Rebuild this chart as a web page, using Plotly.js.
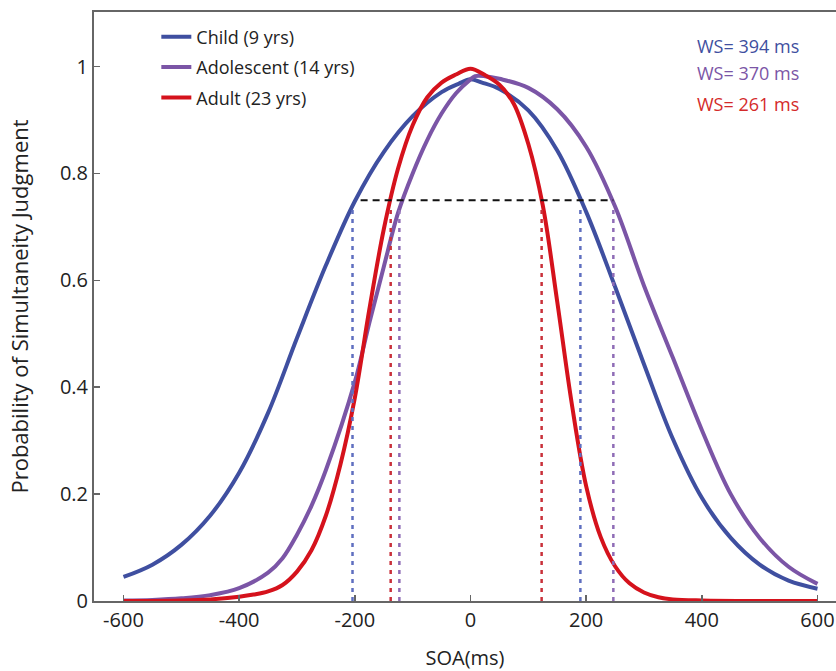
<!DOCTYPE html>
<html>
<head>
<meta charset="utf-8">
<script src="https://cdn.plot.ly/plotly-3.0.1.min.js"></script>
<style>html,body{margin:0;padding:0;background:#fff;overflow:hidden}</style>
</head>
<body>
<div id="chart" style="width:836px;height:671px"></div>
<script>
// ---- data ----
const seriesNames = ["Child (9 yrs)", "Adolescent (14 yrs)", "Adult (23 yrs)"];
const wsLabels = ["WS= 394 ms", "WS= 370 ms", "WS= 261 ms"];

const childX = [-600,-550,-500,-450,-400,-350,-300,-250,-200,-150,-100,-50,-20,0,20,50,100,150,200,250,300,350,400,450,500,550,600];
const childY = [0.045,0.068,0.105,0.160,0.240,0.352,0.492,0.628,0.748,0.840,0.907,0.952,0.968,0.976,0.970,0.958,0.918,0.843,0.728,0.588,0.443,0.303,0.193,0.118,0.068,0.038,0.023];

const adolX = [-600,-550,-500,-450,-400,-350,-325,-300,-275,-250,-200,-175,-150,-125,-100,-75,-50,-25,0,8,25,50,100,150,200,250,300,350,400,450,500,550,600];
const adolY = [0.001,0.002,0.005,0.011,0.024,0.053,0.080,0.124,0.178,0.245,0.410,0.520,0.625,0.727,0.800,0.862,0.912,0.950,0.976,0.982,0.982,0.977,0.960,0.920,0.850,0.738,0.590,0.455,0.320,0.200,0.118,0.064,0.032];

const adultX = [-600,-500,-450,-400,-375,-350,-325,-300,-275,-250,-225,-200,-175,-150,-125,-100,-75,-50,-25,0,25,50,75,100,125,150,175,200,225,250,275,300,325,350,400,500,600];
const adultY = [0,0.001,0.003,0.008,0.012,0.018,0.030,0.055,0.095,0.160,0.255,0.380,0.545,0.695,0.810,0.890,0.942,0.970,0.985,0.996,0.984,0.966,0.930,0.855,0.740,0.560,0.370,0.215,0.120,0.065,0.033,0.016,0.007,0.003,0.001,0,0];

// window-of-simultaneity bounds (ms) and criterion level
const wsLow  = [-204, -123, -138];
const wsHigh = [190, 247, 123];
const criterion = 0.75;
const criterionX = [-190, 247];
const dashTop = 0.735;

const lineColors = ["#3f4fa0", "#7b55a6", "#d5121c"];
const dashColors = ["#5f6fc0", "#8f6cb6", "#c9303a"];
const wsTextColors = ["#3f4fa0", "#7b55a6", "#d42a2a"];

// ---- traces ----
const curves = [[childX, childY], [adolX, adolY], [adultX, adultY]];
const traces = [];
curves.forEach((c, i) => {
  traces.push({
    x: c[0], y: c[1], type: "scatter", mode: "lines",
    name: seriesNames[i], legendgroup: "g" + i,
    line: {color: lineColors[i], width: 4, shape: "spline", smoothing: 1},
    hoverinfo: "skip"
  });
});
for (let i = 0; i < 3; i++) {
  [wsLow[i], wsHigh[i]].forEach(xv => {
    traces.push({
      x: [xv, xv], y: [0, dashTop], type: "scatter", mode: "lines",
      showlegend: false, legendgroup: "g" + i,
      line: {color: dashColors[i], width: 2.5, dash: "4px,5px"},
      hoverinfo: "skip"
    });
  });
}
traces.push({
  x: criterionX, y: [criterion, criterion], type: "scatter", mode: "lines",
  showlegend: false,
  line: {color: "#111", width: 2, dash: "7px,5px"},
  hoverinfo: "skip"
});

const FONT = "Open Sans, Noto Sans, DejaVu Sans, sans-serif";
const annY = [0.943, 0.896, 0.843];
const annotations = wsLabels.map((t, i) => ({
  xref: "paper", yref: "paper", x: 0.881, y: annY[i],
  xanchor: "center", yanchor: "middle", showarrow: false,
  text: t, font: {family: FONT, size: 18, color: wsTextColors[i]}
}));

const layout = {
  width: 836, height: 671,
  margin: {l: 94, r: 0, t: 12, b: 70},
  paper_bgcolor: "#fff", plot_bgcolor: "#fff",
  font: {family: FONT, size: 18, color: "#222"},
  showlegend: true,
  legend: {
    x: 0.084, y: 0.989, xanchor: "left", yanchor: "top",
    bgcolor: "rgba(0,0,0,0)", font: {family: FONT, size: 18, color: "#222"},
    traceorder: "grouped", tracegroupgap: 4
  },
  xaxis: {
    range: [-651, 632], tickvals: [-600,-400,-200,0,200,400,600],
    ticktext: ["-600","-400","-200","0","200","400","600"],
    ticks: "inside", ticklen: 6, tickwidth: 1.5, tickcolor: "#666",
    showline: true, linecolor: "#666", linewidth: 2, mirror: true,
    showgrid: false, zeroline: false,
    tickfont: {family: FONT, size: 20, color: "#222"},
    title: {text: "SOA(ms)", font: {family: FONT, size: 20, color: "#222"}, standoff: 22}
  },
  yaxis: {
    range: [0, 1.102], tickvals: [0,0.2,0.4,0.6,0.8,1],
    ticktext: ["0","0.2","0.4","0.6","0.8","1"],
    ticks: "inside", ticklen: 6, tickwidth: 1.5, tickcolor: "#666",
    showline: true, linecolor: "#666", linewidth: 2, mirror: false,
    showgrid: false, zeroline: false,
    tickfont: {family: FONT, size: 20, color: "#222"},
    title: {text: "Probability of Simultaneity Judgment", font: {family: FONT, size: 22, color: "#222"}, standoff: 25}
  },
  annotations: annotations
};

Plotly.newPlot("chart", traces, layout, {staticPlot: true, displayModeBar: false});
</script>
</body>
</html>
